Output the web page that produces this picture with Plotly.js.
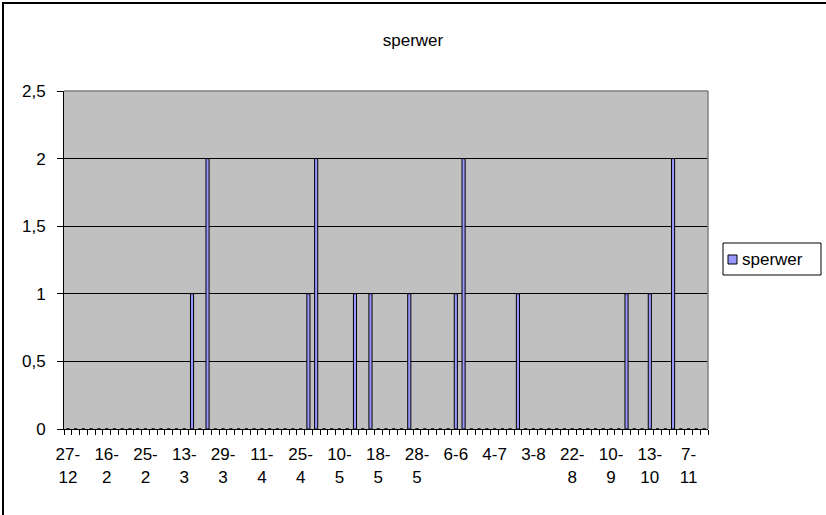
<!DOCTYPE html>
<html>
<head>
<meta charset="utf-8">
<script src="https://cdn.plot.ly/plotly-3.0.1.min.js"></script>
<style>
  html, body { margin: 0; padding: 0; background: #ffffff; }
  #chart { width: 826px; height: 515px; }
</style>
</head>
<body>
<div id="chart"></div>
<script>
// Category positions (83 dated observation slots), labelled every 5th slot
const categoryCount = 83;
const tickPositions = [0, 5, 10, 15, 20, 25, 30, 35, 40, 45, 50, 55, 60, 65, 70, 75, 80];
// Tick labels (day-month) as wrapped in the original: first line and second line
const tickLabelsLine1 = ["27-", "16-", "25-", "13-", "29-", "11-", "25-", "10-", "18-", "28-", "6-6", "4-7", "3-8", "22-", "10-", "13-", "7-"];
const tickLabelsLine2 = ["12", "2", "2", "3", "3", "4", "4", "5", "5", "5", "", "", "", "8", "9", "10", "11"];
// Slots with sightings and their counts
const sightingSlots = [16, 18, 31, 32, 37, 39, 44, 50, 51, 58, 72, 75, 78];
const sightingCounts = [1, 2, 1, 2, 1, 1, 1, 1, 2, 1, 1, 1, 2];
const yTickValues = [0, 0.5, 1, 1.5, 2, 2.5];
const yTickLabels = ["0", "0,5", "1", "1,5", "2", "2,5"];
const seriesName = "sperwer";

const xs = [];
const ys = [];
for (let i = 0; i < categoryCount; i++) {
  xs.push(i);
  const k = sightingSlots.indexOf(i);
  ys.push(k >= 0 ? sightingCounts[k] : 0);
}
const boundaryTicks = [];
for (let i = 0; i <= categoryCount; i++) boundaryTicks.push(i - 0.5);

const FS = 17;
const font = { family: "Liberation Sans, Arial, sans-serif", size: FS, color: "#000000" };

const traces = [
  {
    type: "bar",
    x: xs,
    y: ys,
    name: seriesName,
    marker: { color: "#9999FF", line: { color: "#000000", width: 1 } },
    showlegend: false
  },
  { type: "scatter", x: [0], y: [0], xaxis: "x2", mode: "markers", marker: { opacity: 0 }, showlegend: false, hoverinfo: "skip" },
  { type: "scatter", x: [0], y: [0], xaxis: "x3", mode: "markers", marker: { opacity: 0 }, showlegend: false, hoverinfo: "skip" }
];

const xRange = [-0.5, categoryCount - 0.5];

// plot area in pixels: x 64..708, y 91..429
const W = 644, H = 338;
const px = (x) => (x - 64) / W;
const py = (y) => (429 - y) / H;

const layout = {
  width: 826,
  height: 515,
  margin: { l: 64, r: 118, t: 91, b: 86 },
  paper_bgcolor: "#ffffff",
  plot_bgcolor: "#C0C0C0",
  font: font,
  bargap: 0.6,
  showlegend: false,
  title: {
    text: "sperwer",
    font: font,
    x: 0.5,
    xanchor: "center",
    y: 1 - 40 / 515,
    yanchor: "middle"
  },
  xaxis: {
    range: xRange,
    tickmode: "array",
    tickvals: tickPositions,
    ticktext: tickLabelsLine1,
    ticks: "",
    ticklabelstandoff: 10,
    showgrid: false,
    zeroline: false,
    showline: true,
    linecolor: "#000000",
    linewidth: 1,
    tickfont: font
  },
  xaxis2: {
    overlaying: "x",
    anchor: "y",
    side: "bottom",
    range: xRange,
    tickmode: "array",
    tickvals: boundaryTicks,
    ticks: "outside",
    ticklen: 5,
    tickcolor: "#000000",
    tickwidth: 1,
    showticklabels: false,
    showgrid: false,
    zeroline: false,
    showline: false
  },
  xaxis3: {
    overlaying: "x",
    anchor: "y",
    side: "bottom",
    range: xRange,
    tickmode: "array",
    tickvals: tickPositions,
    ticktext: tickLabelsLine2,
    ticks: "",
    ticklabelstandoff: 36,
    showgrid: false,
    zeroline: false,
    showline: false,
    tickfont: font
  },
  yaxis: {
    range: [0, 2.5],
    tickmode: "array",
    tickvals: yTickValues,
    ticktext: yTickLabels,
    ticks: "outside",
    ticklen: 6,
    tickcolor: "#000000",
    ticklabelstandoff: 8,
    showgrid: true,
    gridcolor: "#000000",
    gridwidth: 1,
    zeroline: false,
    showline: true,
    linecolor: "#000000",
    linewidth: 1,
    tickfont: font
  },
  shapes: [
    // plot area border (top/right)
    { type: "line", xref: "paper", yref: "paper", x0: 0, x1: 1, y0: 1, y1: 1, line: { color: "#808080", width: 1.5 } },
    { type: "line", xref: "paper", yref: "paper", x0: 1, x1: 1, y0: 0, y1: 1, line: { color: "#808080", width: 1.5 } },
    // chart frame (left/top visible)
    { type: "line", xref: "paper", yref: "paper", x0: px(3), x1: px(3), y0: py(515), y1: py(2), line: { color: "#000000", width: 2 } },
    { type: "line", xref: "paper", yref: "paper", x0: px(2), x1: px(826), y0: py(3), y1: py(3), line: { color: "#000000", width: 2 } },
    // legend box
    { type: "rect", xref: "paper", yref: "paper", x0: px(723), x1: px(821), y0: py(275), y1: py(243), fillcolor: "#ffffff", line: { color: "#000000", width: 1 } },
    { type: "rect", xref: "paper", yref: "paper", x0: px(728), x1: px(737), y0: py(264), y1: py(255), fillcolor: "#9999FF", line: { color: "#000000", width: 1 } }
  ],
  annotations: [
    { xref: "paper", yref: "paper", x: px(740), y: py(259), xanchor: "left", yanchor: "middle", text: seriesName, showarrow: false, font: font }
  ]
};

Plotly.newPlot("chart", traces, layout, { displayModeBar: false, staticPlot: true });
</script>
</body>
</html>
